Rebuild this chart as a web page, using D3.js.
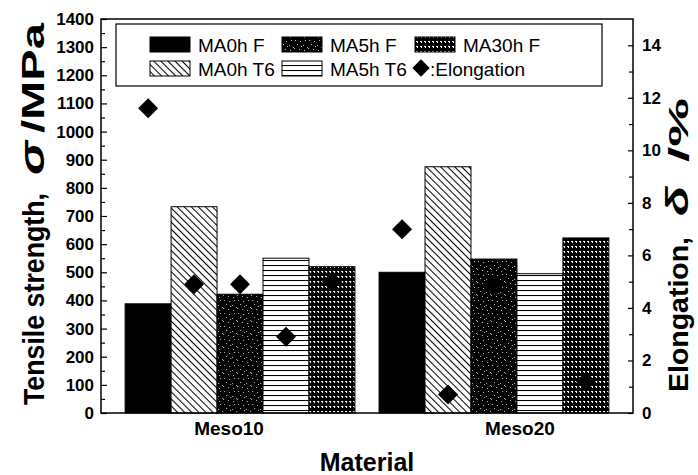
<!DOCTYPE html>
<html><head><meta charset="utf-8">
<script src="https://cdn.jsdelivr.net/npm/d3@7"></script>
<style>body{margin:0;background:#fff}svg{display:block}</style></head>
<body>
<svg id="chart" width="698" height="475"></svg>
<script>
// ---- data ----
const materials = ["Meso10", "Meso20"];
const seriesNames = ["MA0h F", "MA0h T6", "MA5h F", "MA5h T6", "MA30h F"];
const ma0hF  = [388, 500];
const ma0hT6 = [733, 875];
const ma5hF  = [422, 547];
const ma5hT6 = [550, 495];
const ma30hF = [520, 622];
// elongation (%) per series, order as seriesNames
const elongMeso10 = [11.6, 4.9, 4.9, 2.9, 5.0];
const elongMeso20 = [7.0, 0.7, 4.9, null, 1.2];
const strengthTicks = d3.range(0, 1401, 100);
const strengthMinor = d3.range(50, 1400, 100);
const elongTicks = d3.range(0, 15, 2);
const elongMinor = d3.range(1, 15, 2);
const legendRow1 = ["MA0h F", "MA5h F", "MA30h F"];
const legendRow2 = ["MA0h T6", "MA5h T6"];

const seriesValues = [ma0hF, ma0hT6, ma5hF, ma5hT6, ma30hF];
const elongValues = [elongMeso10, elongMeso20];

// ---- layout ----
const svg = d3.select("#chart");
const L = 101, R = 633, T = 19, B = 413;
const FONT = "'Liberation Sans', Arial, sans-serif";
const NARROW = "'Liberation Sans Narrow', 'Liberation Sans', Arial, sans-serif";

const x0 = d3.scaleBand().domain(materials).range([L, R]).paddingInner(0.095).paddingOuter(0.095);
const x1 = d3.scaleBand().domain(seriesNames).range([0, x0.bandwidth()]);
const y = d3.scaleLinear().domain([0, 1400]).range([B, T]);
const y2 = d3.scaleLinear().domain([0, 15]).range([B, T]);

// ---- patterns ----
const defs = svg.append("defs");
function pat(id, w, h, bg, draw, transform) {
  const p = defs.append("pattern").attr("id", id).attr("patternUnits", "userSpaceOnUse")
    .attr("width", w).attr("height", h);
  if (transform) p.attr("patternTransform", transform);
  p.append("rect").attr("width", w).attr("height", h).attr("fill", bg);
  draw(p);
}
function dots(p, pts, col, w, h) {
  pts.forEach(d => p.append("rect").attr("x", d[0]).attr("y", d[1])
    .attr("width", w || 1).attr("height", h || 1).attr("fill", col));
}
pat("diag", 5, 5, "#fff", p => p.append("line").attr("x1", 0.5).attr("y1", 0).attr("x2", 0.5).attr("y2", 5)
  .attr("stroke", "#000").attr("stroke-width", 1.1), "rotate(-45)");
pat("horiz", 6, 5, "#fff", p => p.append("line").attr("x1", 0).attr("y1", 0.5).attr("x2", 6).attr("y2", 0.5)
  .attr("stroke", "#000").attr("stroke-width", 1.1));
pat("speck", 14, 13, "#000", p => dots(p,
  [[1,1],[6,2],[11,1],[3,5],[9,6],[13,8],[0,9],[5,10],[10,11],[7,7]], "#bbb"));
pat("grid", 4, 5, "#000", p => {
  dots(p, [[0,1]], "#fff", 2, 1);
  dots(p, [[1,2]], "#fff", 1, 1);
});
const fills = {"MA0h F": "#000", "MA0h T6": "url(#diag)", "MA5h F": "url(#speck)", "MA5h T6": "url(#horiz)", "MA30h F": "url(#grid)"};

// ---- bars ----
const groups = svg.append("g").selectAll("g").data(materials).join("g")
  .attr("transform", d => `translate(${x0(d)},0)`);
groups.selectAll("rect").data((m, mi) => seriesNames.map((s, si) => ({s, v: seriesValues[si][mi]})))
  .join("rect")
  .attr("x", d => x1(d.s)).attr("width", x1.bandwidth())
  .attr("y", d => y(d.v)).attr("height", d => y(0) - y(d.v))
  .attr("fill", d => fills[d.s]).attr("stroke", "#000").attr("stroke-width", 1);

// ---- elongation diamonds ----
const diamond = d3.symbol().type(d3.symbolSquare).size(200);
groups.selectAll("path.el").data((m, mi) => seriesNames.map((s, si) => ({s, v: elongValues[mi][si]})).filter(d => d.v != null))
  .join("path").attr("class", "el")
  .attr("d", diamond)
  .attr("transform", d => `translate(${x1(d.s) + x1.bandwidth() / 2},${y2(d.v)}) rotate(45)`)
  .attr("fill", "#000");

// ---- frame ----
svg.append("rect").attr("x", L).attr("y", T).attr("width", R - L).attr("height", B - T)
  .attr("fill", "none").attr("stroke", "#000").attr("stroke-width", 1.5);

// ---- left axis ----
const yAxis = d3.axisLeft(y).tickValues(strengthTicks).tickFormat(d3.format("d")).tickSize(-6).tickPadding(7);
const gy = svg.append("g").attr("transform", `translate(${L},0)`).call(yAxis);
gy.select(".domain").remove();
gy.selectAll("text").attr("font-family", NARROW).attr("font-size", 17).attr("font-weight", "bold").attr("fill", "#000");
gy.selectAll("line").attr("stroke-width", 1.2);
const gyMinor = svg.append("g").attr("transform", `translate(${L},0)`)
  .call(d3.axisLeft(y).tickValues(strengthMinor).tickSize(-4).tickFormat(""));
gyMinor.select(".domain").remove();
gyMinor.selectAll("line").attr("stroke-width", 1.2);

// ---- right axis ----
const y2Axis = d3.axisRight(y2).tickValues(elongTicks).tickFormat(d3.format("d")).tickSize(-5).tickPadding(9);
const gy2 = svg.append("g").attr("transform", `translate(${R},0)`).call(y2Axis);
gy2.select(".domain").remove();
gy2.selectAll("text").attr("font-family", NARROW).attr("font-size", 17).attr("font-weight", "bold").attr("fill", "#000");
gy2.selectAll("line").attr("stroke-width", 1.2);
const gy2Minor = svg.append("g").attr("transform", `translate(${R},0)`)
  .call(d3.axisRight(y2).tickValues(elongMinor).tickSize(-4).tickFormat(""));
gy2Minor.select(".domain").remove();
gy2Minor.selectAll("line").attr("stroke-width", 1.2);

// ---- category labels ----
const labelShift = {"Meso10": -11, "Meso20": 26};
svg.append("g").selectAll("text").data(materials).join("text")
  .attr("x", d => x0(d) + x0.bandwidth() / 2 + labelShift[d]).attr("y", 435)
  .attr("text-anchor", "middle").attr("font-family", FONT).attr("font-size", 19).attr("font-weight", "bold")
  .text(d => d);
svg.append("text").attr("x", (L + R) / 2).attr("y", 471).attr("text-anchor", "middle")
  .attr("font-family", FONT).attr("font-size", 25).attr("font-weight", "bold").text("Material");

// ---- axis titles (rotated, pieces stretched to the reference lengths) ----
function titlePiece(g, txt, start, len, size, italic) {
  g.append("text").attr("x", start).attr("y", 0).attr("textLength", len).attr("lengthAdjust", "spacingAndGlyphs")
    .attr("font-family", FONT).attr("font-size", size).attr("font-weight", "bold")
    .attr("font-style", italic ? "italic" : "normal").text(txt);
}
const lt = svg.append("g").attr("transform", "translate(44,405) rotate(-90)");
titlePiece(lt, "Tensile strength,", 0, 212, 29);
titlePiece(lt, "σ", 230, 34, 36, true);
titlePiece(lt, "/MPa", 272, 110, 31);

const rt = svg.append("g").attr("transform", "translate(688,392) rotate(-90)");
titlePiece(rt, "Elongation,", 0, 155, 28);
titlePiece(rt, "δ", 176, 30, 32, true);
titlePiece(rt, "/%", 230, 64, 28);

// ---- legend ----
const lg = svg.append("g");
lg.append("rect").attr("x", 116).attr("y", 24).attr("width", 486).attr("height", 62)
  .attr("fill", "#fff").attr("stroke", "#000").attr("stroke-width", 1.2);
const colX = [150, 282, 415];
function legendItem(name, cx, cy) {
  lg.append("rect").attr("x", cx).attr("y", cy - 15).attr("width", 40).attr("height", 15)
    .attr("fill", fills[name]).attr("stroke", "#000").attr("stroke-width", 1);
  lg.append("text").attr("x", cx + 48).attr("y", cy).attr("font-family", FONT).attr("font-size", 19).text(name);
}
legendRow1.forEach((n, i) => legendItem(n, colX[i], 52));
legendRow2.forEach((n, i) => legendItem(n, colX[i], 76));
lg.append("path").attr("d", d3.symbol().type(d3.symbolSquare).size(150))
  .attr("transform", "translate(421,68) rotate(45)").attr("fill", "#000");
lg.append("text").attr("x", 430).attr("y", 76).attr("font-family", FONT).attr("font-size", 19).text(":Elongation");
</script>
</body></html>
